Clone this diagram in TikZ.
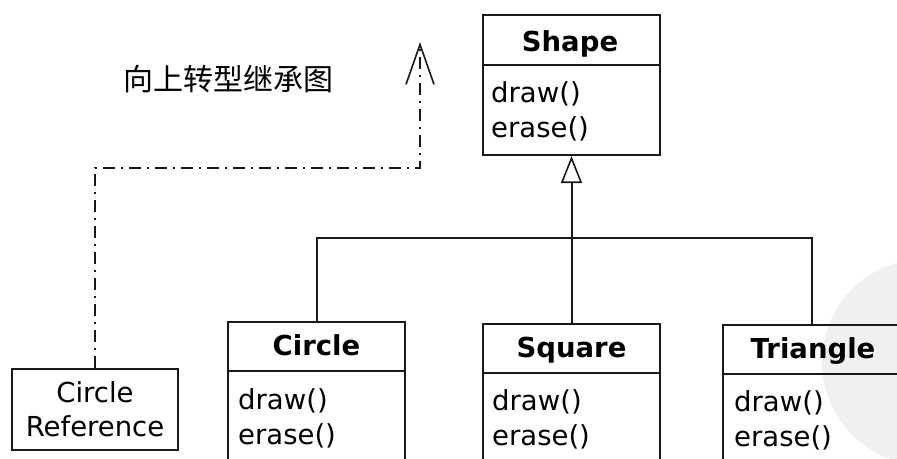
\documentclass[tikz,border=0pt]{standalone}
\usepackage{fontspec}
\setmainfont{DejaVu Sans}
\newfontfamily\cjk{Noto Sans CJK SC}
\usetikzlibrary{arrows.meta}
\tikzset{
  x=1pt, y=-1pt,
  ln/.style={line width=2pt, draw=black!90},
  cls/.style={ln, rectangle, inner sep=0pt, minimum width=177pt},
  ttl/.style={font=\fontsize{27.5}{30}\selectfont\bfseries, inner sep=0pt, anchor=base},
  meth/.style={font=\fontsize{27.5}{35}\selectfont, align=left, inner sep=0pt, anchor=base west},
  refbox/.style={ln, rectangle, inner sep=0pt, minimum width=166pt, minimum height=81pt, align=center, font=\fontsize{27.5}{34}\selectfont},
  dashdot/.style={ln, dash pattern=on 12pt off 6pt on 2pt off 6pt},
}
\begin{document}
\begin{tikzpicture}
\useasboundingbox (0,0) rectangle (897,458);
\clip (0,0) rectangle (897,458);
% faint scan shading
\fill[black!6] (925,362) circle (103);
% Shape
\node[cls, minimum height=140pt] (shape) at (571.5,85) {};
\draw[ln] (483,65) -- (660,65);
\node[ttl] (shapeT) at (570,51) {Shape};
\node[meth] (shapeM) at (491,137) {draw()\\erase()};
% subclasses
\node[cls, minimum height=160pt] (circle) at (316.5,402) {};
\draw[ln] (228,371) -- (405,371);
\node[ttl] (circleT) at (316.5,355) {Circle};
\node[meth] (circleM) at (238,444) {draw()\\erase()};
\node[cls, minimum height=160pt] (square) at (571.5,404) {};
\draw[ln] (483,373) -- (660,373);
\node[ttl] (squareT) at (571.5,357) {Square};
\node[meth] (squareM) at (492,445) {draw()\\erase()};
\node[cls, minimum height=160pt] (triangle) at (811.5,405) {};
\draw[ln] (723,374) -- (900,374);
\node[ttl] (triangleT) at (813,358) {Triangle};
\node[meth] (triangleM) at (734,446) {draw()\\erase()};
% inheritance
\coordinate (join) at (571.5,238);
\draw[ln, -{Triangle[open, length=27pt, width=21pt, line width=1.6pt]}] (square.north) -- (shape.south);
\draw[ln] (circle.north) |- (join) -| (triangle.north);
% reference
\node[refbox] (ref) at (95,409.5) {Circle\\Reference};
\coordinate (turn) at (420,168);
\coordinate (tip) at (420,42);
\draw[dashdot, -{Straight Barb[length=40pt, width=28pt, line width=1.6pt]}] (ref.north) |- (turn) -- (tip);
\node[font=\cjk\fontsize{30}{34}\selectfont, inner sep=0pt] (label) at (228,79) {向上转型继承图};
\end{tikzpicture}
\end{document}
